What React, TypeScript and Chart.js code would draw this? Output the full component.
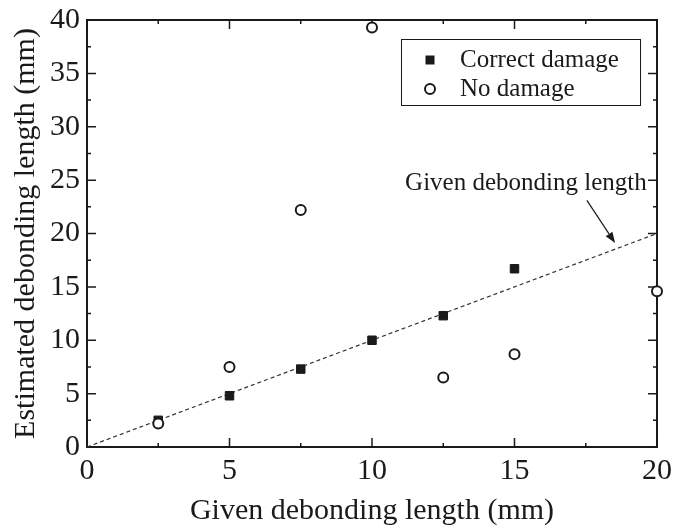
import React, { useEffect, useRef } from "react";
import { Chart, registerables } from "chart.js";

Chart.register(...registerables);

const xCorrect = [2.5, 5, 7.5, 10, 12.5, 15];
const yCorrect = [2.5, 4.8, 7.3, 10, 12.3, 16.7];
const xNoDamage = [2.5, 5, 7.5, 10, 12.5, 15, 20];
const yNoDamage = [2.2, 7.5, 22.2, 39.3, 6.5, 8.7, 14.6];
const xGiven = [0, 20];
const yGiven = [0, 20];
const xTicks = [0, 5, 10, 15, 20];
const yTicks = [0, 5, 10, 15, 20, 25, 30, 35, 40];
const legendLabels = ["Correct damage", "No damage"];
const annotationText = "Given debonding length";
const xTitle = "Given debonding length (mm)";
const yTitle = "Estimated debonding length (mm)";

const FONT = "'Liberation Serif', 'Times New Roman', serif";
const INK = "#1a1a1a";

const framePlugin = {
  id: "frame",
  beforeDatasetsDraw(chart: any) {
    const { ctx, chartArea: a, scales } = chart;
    const xs = scales.x;
    const ys = scales.y;
    ctx.save();
    ctx.strokeStyle = INK;
    ctx.lineWidth = 2;
    ctx.strokeRect(a.left, a.top, a.right - a.left, a.bottom - a.top);
    ctx.lineWidth = 1.5;
    const major = 9;
    const minor = 4;
    for (let v = 0; v <= 20.001; v += 2.5) {
      const isMajor = Math.abs(v % 5) < 1e-6;
      const len = isMajor ? major : minor;
      const px = xs.getPixelForValue(v);
      ctx.beginPath();
      ctx.moveTo(px, a.bottom);
      ctx.lineTo(px, a.bottom - len);
      ctx.moveTo(px, a.top);
      ctx.lineTo(px, a.top + len);
      ctx.stroke();
    }
    for (let v = 0; v <= 40.001; v += 2.5) {
      const isMajor = Math.abs(v % 5) < 1e-6;
      const len = isMajor ? major : minor;
      const py = ys.getPixelForValue(v);
      ctx.beginPath();
      ctx.moveTo(a.left, py);
      ctx.lineTo(a.left + len, py);
      ctx.moveTo(a.right, py);
      ctx.lineTo(a.right - len, py);
      ctx.stroke();
    }
    ctx.restore();
  },
  afterDatasetsDraw(chart: any) {
    const { ctx, chartArea: a, scales } = chart;
    const xs = scales.x;
    const ys = scales.y;
    ctx.save();
    // legend
    const bx = a.right - 256;
    const by = a.top + 19;
    ctx.fillStyle = "#fff";
    ctx.fillRect(bx, by, 239, 66);
    ctx.strokeStyle = INK;
    ctx.lineWidth = 1;
    ctx.strokeRect(bx + 0.5, by + 0.5, 239, 66);
    const row1 = by + 21;
    const row2 = by + 50;
    const mx = bx + 29;
    ctx.fillStyle = INK;
    ctx.fillRect(mx - 4.5, row1 - 4.5, 9, 9);
    ctx.beginPath();
    ctx.arc(mx, row2, 5, 0, Math.PI * 2);
    ctx.fillStyle = "#fff";
    ctx.fill();
    ctx.lineWidth = 2;
    ctx.strokeStyle = INK;
    ctx.stroke();
    ctx.fillStyle = INK;
    ctx.font = `25px ${FONT}`;
    ctx.textAlign = "left";
    ctx.textBaseline = "middle";
    ctx.fillText(legendLabels[0], bx + 59, row1);
    ctx.fillText(legendLabels[1], bx + 59, row2);

    // annotation
    ctx.textAlign = "center";
    ctx.fillText(annotationText, xs.getPixelForValue(15.4), ys.getPixelForValue(24.7));
    const sx = xs.getPixelForValue(17.54);
    const sy = ys.getPixelForValue(23.1);
    const tx = xs.getPixelForValue(18.53);
    const ty = ys.getPixelForValue(19.1);
    const ang = Math.atan2(ty - sy, tx - sx);
    const head = 11;
    const hw = 4;
    const hx = tx - head * Math.cos(ang);
    const hy = ty - head * Math.sin(ang);
    ctx.strokeStyle = INK;
    ctx.lineWidth = 1.2;
    ctx.beginPath();
    ctx.moveTo(sx, sy);
    ctx.lineTo(hx, hy);
    ctx.stroke();
    ctx.beginPath();
    ctx.moveTo(tx, ty);
    ctx.lineTo(hx + hw * Math.sin(ang), hy - hw * Math.cos(ang));
    ctx.lineTo(hx - hw * Math.sin(ang), hy + hw * Math.cos(ang));
    ctx.closePath();
    ctx.fill();
    ctx.restore();
  },
};

export default function App() {
  const ref = useRef<HTMLCanvasElement | null>(null);
  useEffect(() => {
    document.body.style.margin = "0";
    const canvas = ref.current;
    if (!canvas) return;
    const chart = new Chart(canvas, {
      type: "scatter",
      data: {
        datasets: [
          {
            label: legendLabels[1],
            data: xNoDamage.map((x, i) => ({ x, y: yNoDamage[i] })),
            pointStyle: "circle",
            pointRadius: 5,
            pointBorderWidth: 2,
            pointBackgroundColor: "#fff",
            pointBorderColor: INK,
            clip: false as any,
          },
          {
            label: legendLabels[0],
            data: xCorrect.map((x, i) => ({ x, y: yCorrect[i] })),
            pointStyle: "rect",
            pointRadius: 6,
            pointBorderWidth: 1,
            pointBackgroundColor: INK,
            pointBorderColor: INK,
            clip: false as any,
          },
          {
            label: annotationText,
            data: xGiven.map((x, i) => ({ x, y: yGiven[i] })),
            showLine: true,
            borderColor: "#333",
            borderWidth: 1.2,
            borderDash: [4, 3],
            pointRadius: 0,
            clip: false as any,
          },
        ],
      },
      options: {
        animation: false,
        responsive: false,
        devicePixelRatio: 1,
        layout: { padding: { left: 0, top: 20, right: 16, bottom: 0 } },
        plugins: { legend: { display: false }, tooltip: { enabled: false } },
        scales: {
          x: {
            type: "linear",
            min: 0,
            max: 20,
            afterFit: (s: any) => {
              s.height = 82;
              s.paddingLeft = 0;
              s.paddingRight = 0;
            },
            afterBuildTicks: (s: any) => {
              s.ticks = xTicks.map((v) => ({ value: v }));
            },
            grid: { display: false, drawTicks: false },
            border: { display: false },
            ticks: {
              padding: 6,
              color: INK,
              font: { family: FONT, size: 30 },
              maxRotation: 0,
            },
            title: {
              display: true,
              text: xTitle,
              color: INK,
              font: { family: FONT, size: 30 },
              padding: { top: 0, bottom: 0 },
            },
          },
          y: {
            type: "linear",
            min: 0,
            max: 40,
            afterFit: (s: any) => {
              s.width = 87;
              s.paddingTop = 0;
              s.paddingBottom = 0;
            },
            afterBuildTicks: (s: any) => {
              s.ticks = yTicks.map((v) => ({ value: v }));
            },
            grid: { display: false, drawTicks: false },
            border: { display: false },
            ticks: {
              padding: 7,
              color: INK,
              font: { family: FONT, size: 30 },
            },
            title: {
              display: true,
              text: yTitle,
              color: INK,
              font: { family: FONT, size: 30 },
              padding: { top: 8, bottom: 0 },
            },
          },
        },
      },
      plugins: [framePlugin],
    });
    return () => chart.destroy();
  }, []);
  return <canvas ref={ref} width={673} height={529} style={{ display: "block" }} />;
}
